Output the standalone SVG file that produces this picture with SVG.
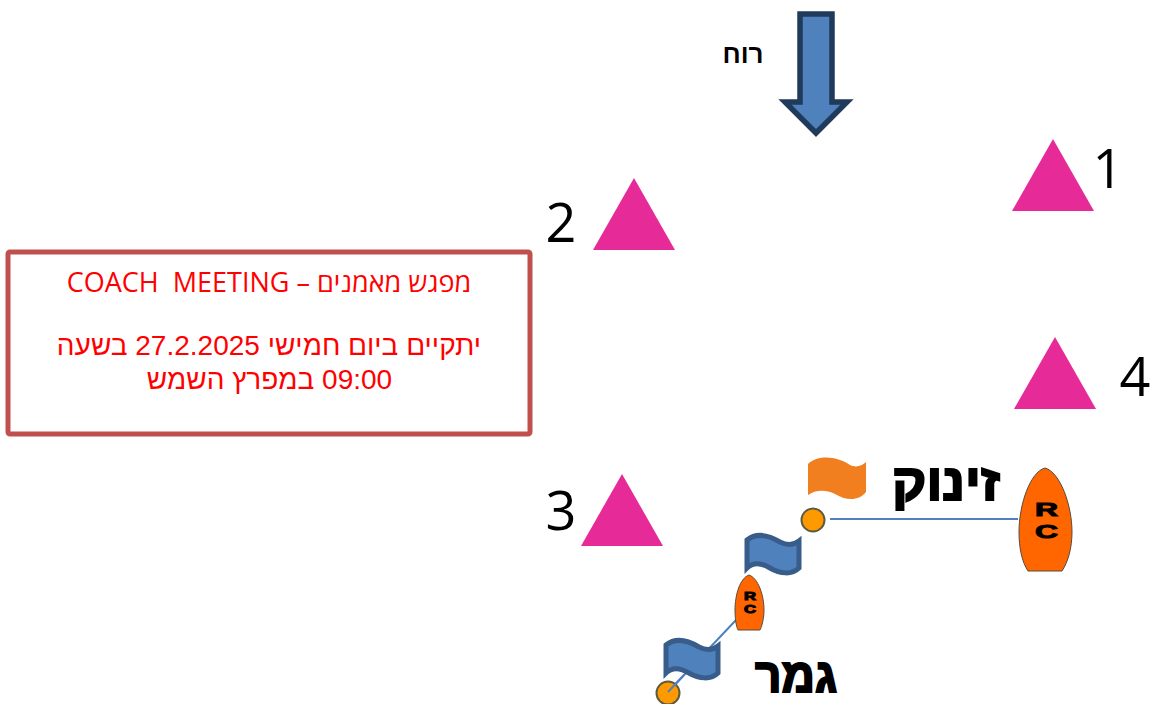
<svg xmlns="http://www.w3.org/2000/svg" width="1151" height="704" viewBox="0 0 1151 704">
<style>
text{font-family:"Liberation Sans","Noto Sans",sans-serif}
.mark{fill:#e62a97}
.num{font-size:54px;font-family:"Open Sans","Noto Sans",sans-serif;fill:#000;text-anchor:middle}
.red{fill:#f00;text-anchor:middle;direction:rtl}
.big{font-weight:bold;fill:#000;stroke:#000;stroke-width:2;direction:rtl}
.boat{fill:#f60;stroke:#5a4a3a;stroke-width:1}
.rc{font-family:"Liberation Sans",sans-serif;font-weight:bold;fill:#000;stroke:#000}
.ball{fill:#f90;stroke:#5f5a40;stroke-width:2}
.flagb{fill:#4f81bd;stroke:#385d8a;stroke-width:5}
.ln{stroke:#4f81bd;stroke-width:2;fill:none}
</style>
<g id="connectors">
<line class="ln" x1="830" y1="519" x2="1018" y2="519"/>
<line class="ln" x1="736" y1="620" x2="668" y2="692"/>
</g>
<g id="wind"><path d="M800 14H832V102H847L816 133L785 102H800Z" fill="#4f81bd" stroke="#1f3a5a" stroke-width="5.500"/><text x="743" y="63" font-size="26" font-weight="bold" text-anchor="middle" style="direction:rtl">רוח</text></g>
<g id="mark1"><polygon class="mark" points="1053,139 1094,211 1012,211"/><text class="num" x="1108" y="188">1</text></g>
<g id="mark2"><polygon class="mark" points="634,178 675,250 593,250"/><text class="num" x="561" y="242">2</text></g>
<g id="mark3"><polygon class="mark" points="622,474 663,546 581,546"/><text class="num" x="561" y="530">3</text></g>
<g id="mark4"><polygon class="mark" points="1055,337 1096,409 1014,409"/><text class="num" x="1135" y="396">4</text></g>
<g id="notice"><rect x="8" y="252" width="522" height="182" rx="2" fill="#fff" stroke="#c0504d" stroke-width="5"/>
<text class="red" x="269" y="292" font-size="27" xml:space="preserve" style="font-family:'Open Sans','Noto Sans',sans-serif;white-space:pre">מפגש מאמנים – COACH  MEETING</text>
<text class="red" x="269" y="355" font-size="28">יתקיים ביום חמישי 27.2.2025 בשעה</text>
<text class="red" x="269.500" y="389" font-size="28">09:00 במפרץ השמש</text></g>
<g id="start-flag"><path d="M808 464C820 453 840 458 850 465C856 468 862 466 866 462V492C858 502 845 500 835 494C825 489 815 490 808 495Z" fill="#f17f20"/></g>
<g id="start-pin"><circle class="ball" cx="813" cy="520" r="11.500"/></g>
<text class="big" x="1000" y="500" font-size="51" textLength="108" lengthAdjust="spacingAndGlyphs">זינוק</text>
<g id="start-boat"><path class="boat" d="M1045 468C1060 472 1072 505 1072 532C1072 548 1068 562 1062 571H1028C1022 562 1019 548 1019 532C1019 505 1030 472 1045 468Z"/><text class="rc" x="1035" y="516" font-size="19" textLength="23" lengthAdjust="spacingAndGlyphs">R</text><text class="rc" x="1035" y="538" font-size="19" textLength="23" lengthAdjust="spacingAndGlyphs">C</text></g>
<g id="finish-flag-1"><path class="flagb" d="M747 540C757 532 770 536 780 542C788 546 794 545 799 541V568C792 575 780 574 770 568C760 562 752 563 747 568Z"/></g>
<g id="finish-boat"><path class="boat" d="M749 575C758 578 764 595 764 610C764 618 762 626 760 630H738C736 626 735 618 735 610C735 595 740 578 749 575Z"/><text class="rc" x="744" y="600" font-size="11" textLength="12" lengthAdjust="spacingAndGlyphs">R</text><text class="rc" x="744" y="613" font-size="11" textLength="12" lengthAdjust="spacingAndGlyphs">C</text></g>
<g id="finish-flag-2"><path class="flagb" d="M666 645C676 637 689 641 699 647C707 651 713 650 718 646V673C711 680 699 679 689 673C679 667 671 668 666 673Z"/></g>
<g id="finish-pin"><circle class="ball" cx="668" cy="693" r="11.500"/><line class="ln" x1="668" y1="692" x2="684" y2="675"/></g>
<text class="big" x="837" y="692" font-size="48" textLength="82" lengthAdjust="spacingAndGlyphs">גמר</text>
</svg>
